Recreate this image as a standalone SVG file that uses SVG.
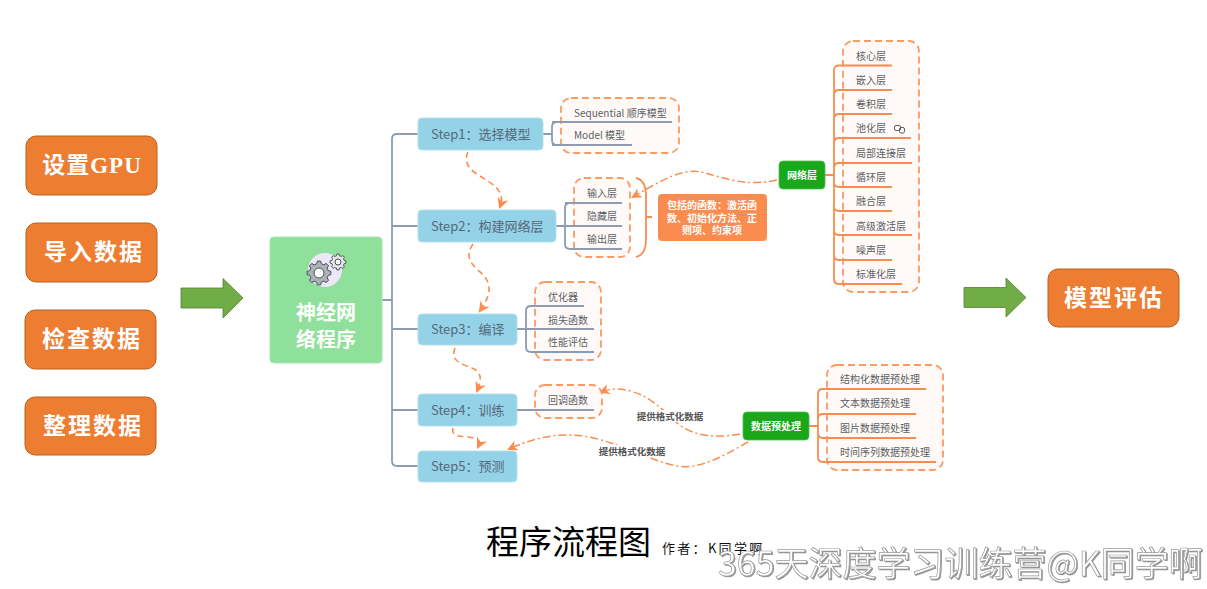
<svg xmlns="http://www.w3.org/2000/svg" width="1207" height="589" viewBox="0 0 1207 589">
<defs>
<marker id="ah" viewBox="0 0 10 10" refX="8" refY="5" markerWidth="7" markerHeight="7" orient="auto-start-reverse"><path d="M0,0 L10,5 L0,10 L3,5 Z" fill="#fb8c4f"/></marker>
<path id="gear" d="M9.22,-2.3L11.88,-1.67L11.88,1.67L9.22,2.3L8.14,4.89L9.58,7.22L7.22,9.58L4.89,8.14L2.3,9.22L1.67,11.88L-1.67,11.88L-2.3,9.22L-4.89,8.14L-7.22,9.58L-9.58,7.22L-8.14,4.89L-9.22,2.3L-11.88,1.67L-11.88,-1.67L-9.22,-2.3L-8.14,-4.89L-9.58,-7.22L-7.22,-9.58L-4.89,-8.14L-2.3,-9.22L-1.67,-11.88L1.67,-11.88L2.3,-9.22L4.89,-8.14L7.22,-9.58L9.58,-7.22L8.14,-4.89Z"/>
<filter id="sh" x="-5%" y="-20%" width="110%" height="140%"><feDropShadow dx="1" dy="1" stdDeviation=".6" flood-color="#777" flood-opacity=".8"/></filter>
</defs>
<style>
text{font-family:"Noto Sans CJK SC","Noto Sans",sans-serif}
.or rect{fill:#ed7d31;stroke:#b5621f;stroke-width:1}
.or text{fill:#fff;font-size:23px;font-weight:700;text-anchor:middle;font-family:"Liberation Serif","Noto Sans CJK SC",serif}
.st rect{fill:#94d2e8;stroke:#b4e0ef;stroke-width:1}
.st text{fill:#56697a;font-size:13px}
.lb{fill:#5a5f66;font-size:10px}
.dash{fill:#fff9f6;stroke:#fb9a62;stroke-width:1.8;stroke-dasharray:7 4}
.g{fill:none;stroke:#8e9bb3;stroke-width:1.8}
.o{fill:none;stroke:#fb8c4f;stroke-width:1.8}
.cd{fill:none;stroke:#fb8c4f;stroke-width:1.6;stroke-dasharray:6 4;marker-end:url(#ah)}
.cdd{fill:none;stroke:#fb8c4f;stroke-width:1.5;stroke-dasharray:8 3 2 3;marker-end:url(#ah)}
.gb rect{fill:#1aa81a;stroke:#4cc04c;stroke-width:.8}
.gb text{fill:#fff;font-size:10px;font-weight:700;text-anchor:middle}
.cap{fill:#555;font-size:9.5px;font-weight:700;text-anchor:middle}
.ar{fill:#70ad47;stroke:#548235;stroke-width:.8}
</style>

<g id="setup-gpu" class="or"><rect x="26" y="136" width="131" height="59" rx="10"/><text x="92" y="173" letter-spacing="1">设置GPU</text></g>
<g id="import-data" class="or"><rect x="26" y="223" width="131" height="59" rx="10"/><text x="94" y="260" letter-spacing="2">导入数据</text></g>
<g id="check-data" class="or"><rect x="25" y="310" width="131" height="59" rx="10"/><text x="92" y="347" letter-spacing="2">检查数据</text></g>
<g id="clean-data" class="or"><rect x="25" y="397" width="131" height="58" rx="10"/><text x="93" y="434" letter-spacing="2">整理数据</text></g>
<g id="eval" class="or"><rect x="1048" y="269" width="131" height="58" rx="10"/><text x="1114" y="306" letter-spacing="2">模型评估</text></g>

<path id="arrow-left" class="ar" d="M181,288H223V278.500L243,298L223,318V308H181Z"/>
<path id="arrow-right" class="ar" d="M964,287.500H1006V278L1026,297.500L1006,317V307.500H964Z"/>

<g id="connectors">
<path class="g" d="M382,300H392M418,134H397Q392,134 392,139V461Q392,466 397,466H418M392,226H418M392,329H418M392,410H418"/>
<path class="g" d="M543,134H552M567,122H557Q552,122 552,127V140Q552,145 557,145H632M552,122H672"/>
<path class="g" d="M556,226H622M622,203H570Q565,203 565,208V244Q565,249 570,249H622"/>
<path class="g" d="M517,329H594M584,306H531Q526,306 526,311V347Q526,352 531,352H594"/>
<path class="g" d="M517,410H594"/>
<path class="o" d="M636,178Q646,180 646,196V239Q646,255 636,257M646,217H652"/>
<path class="o" d="M825,175H834M892,65.500H839Q834,65.500 834,70.500V279Q834,284 839,284H902M834,95Q834,90 839,90H892M834,119Q834,114 839,114H892M834,143Q834,138 839,138H911M834,168Q834,163 839,163H912M834,182Q834,187 839,187H892M834,206Q834,211 839,211H892M834,230Q834,235 839,235H912M834,255Q834,260 839,260H892"/>
<path class="o" d="M809,426H818M926,389H823Q818,389 818,394V457Q818,462 823,462H936M818,419Q818,414 823,414H916M818,433Q818,438 823,438H916"/>
<path class="cd" d="M468,152C463,163 470,170 480,176C492,184 506,190 500,207"/>
<path class="cd" d="M473,244C465,255 470,263 478,270C488,279 496,288 480,311"/>
<path class="cd" d="M455,348C449,362 465,365 472,368C482,372 482,380 477,391"/>
<path class="cd" d="M453,428C451,437 460,436 468,437C478,438 481,441 478,447"/>
<path class="cdd" d="M777,180C745,187 725,178 705,173C685,167 665,178 633,197"/>
<path class="cdd" d="M740,434C705,440 688,432 677,423C665,412 650,396 633,392C622,388 612,388 601,392"/>
<path class="cdd" d="M748,442C725,455 700,470 677,466C655,462 640,452 617,445C590,436 560,426 509,449"/>
</g>

<g id="root"><rect x="270" y="237" width="112" height="126" rx="4" fill="#8fe09a" stroke="#a4e6ad"/>
<circle cx="325" cy="270" r="17" fill="#ece8fa"/>
<use href="#gear" transform="translate(319,273)" fill="#aab4b8" stroke="#4a4f54" stroke-width="1"/><circle cx="319" cy="273" r="5" fill="#fff" stroke="#4a4f54"/>
<use href="#gear" transform="translate(338,262) scale(.67)" fill="#e4e8ea" stroke="#4a4f54" stroke-width="1.400"/><circle cx="338" cy="262" r="3" fill="#fff" stroke="#4a4f54"/>
<text x="326" y="320" text-anchor="middle" fill="#fff" font-size="20" font-weight="700">神经网</text><text x="326" y="347" text-anchor="middle" fill="#fff" font-size="20" font-weight="700">络程序</text></g>

<g id="step1" class="st"><rect x="418" y="118" width="125" height="32" rx="4"/><text x="431" y="139">Step1：选择模型</text></g>
<g id="step2" class="st"><rect x="418" y="210" width="138" height="32" rx="4"/><text x="431" y="231">Step2：构建网络层</text></g>
<g id="step3" class="st"><rect x="418" y="314" width="99" height="31" rx="4"/><text x="431" y="334">Step3：编译</text></g>
<g id="step4" class="st"><rect x="418" y="394" width="99" height="32" rx="4"/><text x="431" y="415">Step4：训练</text></g>
<g id="step5" class="st"><rect x="418" y="451" width="99" height="31" rx="4"/><text x="431" y="471">Step5：预测</text></g>

<g id="models"><rect class="dash" x="561" y="98" width="118" height="55" rx="10" fill-opacity=".85"/>
<path class="g" d="M552,122H672M552,145H632"/>
<text class="lb" x="574" y="117">Sequential 顺序模型</text><text class="lb" x="574" y="139">Model 模型</text></g>

<g id="layers"><rect class="dash" x="574" y="178" width="56" height="79" rx="10" fill-opacity=".85"/>
<path class="g" d="M565,203H622M565,226H622M570,249H622"/>
<text class="lb" x="587" y="197">输入层</text><text class="lb" x="587" y="220">隐藏层</text><text class="lb" x="587" y="243">输出层</text></g>

<g id="compile-opts"><rect class="dash" x="535" y="282" width="66" height="78" rx="10" fill-opacity=".85"/>
<path class="g" d="M530,306H584M517,329H594M531,352H594"/>
<text class="lb" x="548" y="301">优化器</text><text class="lb" x="548" y="324">损失函数</text><text class="lb" x="548" y="346">性能评估</text></g>

<g id="callback"><rect class="dash" x="535" y="385" width="67" height="33" rx="10" fill-opacity=".85"/>
<path class="g" d="M517,410H594"/>
<text class="lb" x="548" y="404">回调函数</text></g>

<g id="functions"><rect x="658" y="194" width="109" height="47" rx="4" fill="#fb8c4f"/>
<g fill="#fff" font-size="10" font-weight="700" text-anchor="middle"><text x="712" y="209">包括的函数：激活函</text><text x="712" y="222">数、初始化方法、正</text><text x="712" y="234">则项、约束项</text></g></g>

<g id="network-layer" class="gb"><rect x="779" y="161" width="46" height="28" rx="4"/><text x="802" y="179">网络层</text></g>
<g id="data-prep" class="gb"><rect x="743" y="412" width="66" height="28" rx="4"/><text x="776" y="430">数据预处理</text></g>

<g id="layer-list"><rect class="dash" x="843" y="41" width="76" height="251" rx="10" fill-opacity=".85"/>
<path class="o" d="M843,65.500H892M843,90H892M843,114H892M843,138H911M843,163H912M843,187H892M843,211H892M843,235H912M843,260H892M843,284H902"/>
<g class="lb"><text x="856" y="60">核心层</text><text x="856" y="84">嵌入层</text><text x="856" y="108">卷积层</text><text x="856" y="132">池化层</text><text x="856" y="157">局部连接层</text><text x="856" y="181">循环层</text><text x="856" y="205">融合层</text><text x="856" y="230">高级激活层</text><text x="856" y="254">噪声层</text><text x="856" y="278">标准化层</text></g>
<g fill="none" stroke="#5a5f66" stroke-width="1"><rect x="894.500" y="125.500" width="6" height="5" rx="1.500"/><rect x="899.500" y="127.500" width="5" height="5.500" rx="1.500"/></g></g>

<g id="data-list"><rect class="dash" x="827" y="365" width="116" height="105" rx="10" fill-opacity=".85"/>
<path class="o" d="M827,389H926M827,414H916M827,438H916M827,462H936"/>
<g class="lb"><text x="840" y="383">结构化数据预处理</text><text x="840" y="407">文本数据预处理</text><text x="840" y="432">图片数据预处理</text><text x="840" y="456">时间序列数据预处理</text></g></g>

<rect x="636" y="410" width="70" height="12" fill="#fff"/><text class="cap" x="670" y="420">提供格式化数据</text>
<rect x="598" y="445" width="70" height="12" fill="#fff"/><text class="cap" x="632" y="455">提供格式化数据</text>

<text x="486" y="554" font-size="33" fill="#000">程序流程图</text>
<text x="662" y="553" font-size="13" letter-spacing="2.300" fill="#111">作者：K同学啊</text>
<text x="718" y="576" font-size="34" fill="#fff" stroke="#999" stroke-width=".7" filter="url(#sh)">365天深度学习训练营@K同学啊</text>
</svg>
